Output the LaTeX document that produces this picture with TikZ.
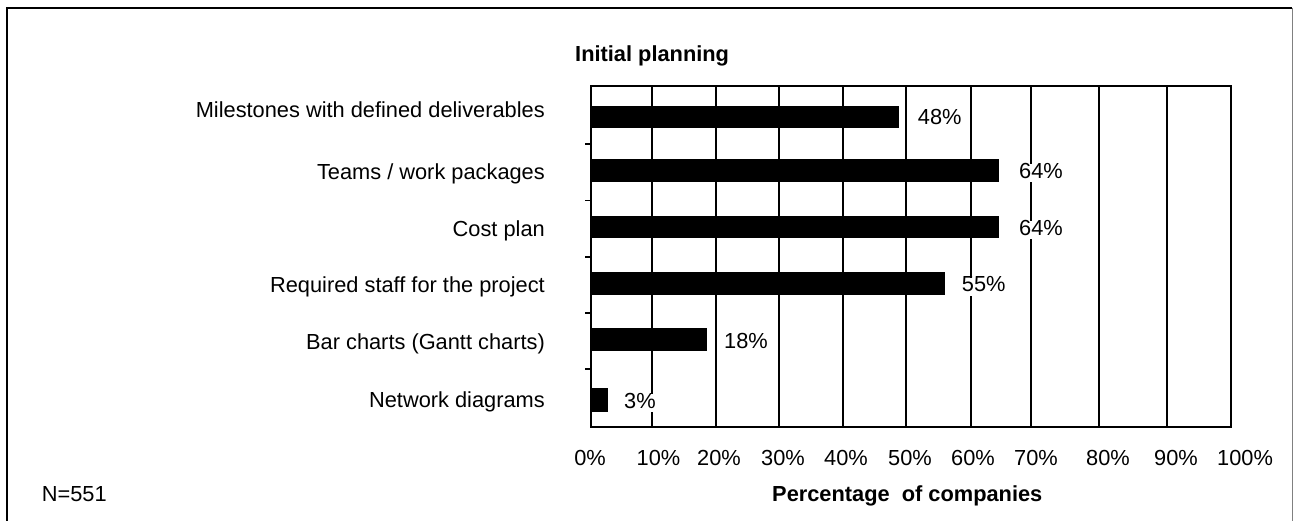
\documentclass[tikz,border=0pt]{standalone}
\usepackage{fontspec}
\setmainfont{Liberation Sans}
\begin{document}
\begin{tikzpicture}[x=1pt,y=-1pt,
  every node/.style={inner sep=0pt, font=\fontsize{21.8}{26}\selectfont},
  cat/.style={anchor=base east},
  val/.style={anchor=base west, fill=white, inner xsep=2pt, inner ysep=3pt, text height=1.1em, text depth=0.1em},
  axl/.style={anchor=base},
  bold/.style={font=\fontsize{21.8}{26}\selectfont\bfseries},
  grid/.style={line width=1.4pt},
  frame/.style={line width=1.9pt},
  bar/.style={fill=black}]
\useasboundingbox (0,0) rectangle (1295,520);
\fill[white] (0,0) rectangle (1295,520);
% outer frame
\draw[line width=2.4pt] (7,530) -- (7,8) -- (1292,8);
\draw[gray, line width=1.4pt] (1292.5,8) -- (1292.5,530);
% grid lines
\foreach \x in {652,716,779,843,906,971,1031,1099,1167}
  \draw[grid] (\x,86) -- (\x,427);
% bars
\fill[bar] (591,105.7) rectangle (899,128.3);
\fill[bar] (591,159.3) rectangle (999,181.7);
\fill[bar] (591,216) rectangle (999,238.3);
\fill[bar] (591,272.3) rectangle (945,295);
\fill[bar] (591,328.3) rectangle (707,351);
\fill[bar] (591,388.3) rectangle (607.5,411.7);
% value labels
\node[val] (v1) at (915.7,124.8) {48\%};
\node[val] (v2) at (1017,178.3) {64\%};
\node[val] (v3) at (1017,235) {64\%};
\node[val] (v4) at (959.7,291.5) {55\%};
\node[val] (v5) at (722,348) {18\%};
\node[val] (v6) at (622,408) {3\%};
% plot frame
\draw[frame] (591,86) rectangle (1231,427);
% ticks
\foreach \y in {144,200.5,257,313,369}
  \draw[grid] (585,\y) -- (591,\y);
% category labels
\node[cat] (c1) at (545,117) {Milestones with defined deliverables};
\node[cat] (c2) at (545,179.5) {Teams / work packages};
\node[cat] (c3) at (545,236) {Cost plan};
\node[cat] (c4) at (545,292) {Required staff for the project};
\node[cat] (c5) at (545,349) {Bar charts (Gantt charts)};
\node[cat] (c6) at (545,407.5) {Network diagrams};
% axis labels
\node[axl] (a0) at (590,465.7) {0\%};
\node[axl] (a1) at (658.5,465.7) {10\%};
\node[axl] (a2) at (719,465.7) {20\%};
\node[axl] (a3) at (783,465.7) {30\%};
\node[axl] (a4) at (846,465.7) {40\%};
\node[axl] (a5) at (910,465.7) {50\%};
\node[axl] (a6) at (973,465.7) {60\%};
\node[axl] (a7) at (1036,465.7) {70\%};
\node[axl] (a8) at (1108,465.7) {80\%};
\node[axl] (a9) at (1176,465.7) {90\%};
\node[axl] (a10) at (1245,465.7) {100\%};
% titles
\node[bold, anchor=base west] (title) at (575,61.7) {Initial planning};
\node[bold, anchor=base west] (xt) at (772,501.7) {Percentage\ \ of companies};
\node[anchor=base west] (n) at (41.7,501.7) {N=551};
\end{tikzpicture}
\end{document}
